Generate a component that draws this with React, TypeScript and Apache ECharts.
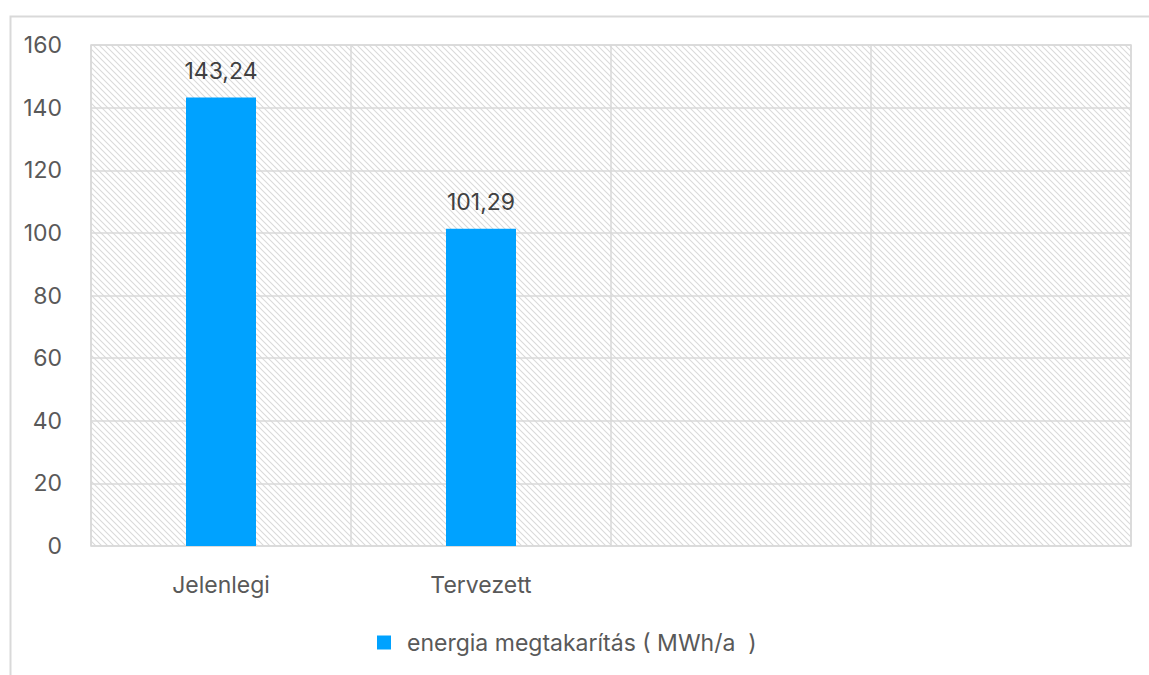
import React, { useEffect, useRef } from "react";
import * as echarts from "echarts";

const categories = ["Jelenlegi", "Tervezett", "", ""];
const values: (number | null)[] = [143.24, 101.29, null, null];
const seriesName = "energia megtakarítás ( MWh/a  )";
const yMin = 0;
const yMax = 160;
const yInterval = 20;

function makeHatch(): HTMLCanvasElement {
  const s = 6;
  const c = document.createElement("canvas");
  c.width = s;
  c.height = s;
  const ctx = c.getContext("2d")!;
  ctx.fillStyle = "#ffffff";
  ctx.fillRect(0, 0, s, s);
  ctx.strokeStyle = "#dadada";
  ctx.lineWidth = 1.1;
  ctx.beginPath();
  ctx.moveTo(-1, -1);
  ctx.lineTo(s + 1, s + 1);
  ctx.moveTo(-1, s - 1);
  ctx.lineTo(1, s + 1);
  ctx.moveTo(s - 1, -1);
  ctx.lineTo(s + 1, 1);
  ctx.stroke();
  return c;
}

export default function App() {
  const ref = useRef<HTMLDivElement>(null);
  useEffect(() => {
    document.body.style.margin = "0";
    const chart = echarts.init(ref.current!, null, { renderer: "svg" });
    const font = "Inter, 'Open Sans', sans-serif";
    const fs = 23;
    chart.setOption({
      animation: false,
      textStyle: { fontFamily: font },
      graphic: [
        {
          type: "rect",
          left: 8,
          top: 14,
          shape: { width: 1300, height: 800 },
          style: { fill: "none", stroke: "#d9d9d9", lineWidth: 2 },
          silent: true,
          z: -10,
        },
      ],
      grid: {
        left: 91,
        right: 18,
        top: 45,
        bottom: 129,
        show: true,
        backgroundColor: { image: makeHatch(), repeat: "repeat" } as any,
        borderColor: "#d9d9d9",
        borderWidth: 1.5,
      },
      legend: {
        top: 631,
        left: 377,
        padding: 0,
        icon: "rect",
        itemWidth: 14,
        itemHeight: 14,
        itemGap: 10,
        textStyle: { fontSize: fs, color: "#595959", fontFamily: font, padding: [0, 0, 0, 11] },
        data: [seriesName],
      },
      xAxis: {
        type: "category",
        data: categories,
        axisLine: { show: false },
        axisTick: { show: false },
        axisLabel: { fontSize: fs, color: "#595959", margin: 27, fontFamily: font },
        splitLine: { show: true, lineStyle: { color: "#d9d9d9", width: 1.5 } },
      },
      yAxis: {
        type: "value",
        min: yMin,
        max: yMax,
        interval: yInterval,
        axisLine: { show: false },
        axisTick: { show: false },
        axisLabel: { fontSize: fs, color: "#595959", margin: 29, fontFamily: font },
        splitLine: { show: true, lineStyle: { color: "#d9d9d9", width: 1.5 } },
      },
      series: [
        {
          name: seriesName,
          type: "bar",
          data: values,
          barWidth: 70,
          itemStyle: { color: "#00a2ff" },
          label: {
            show: true,
            position: "top",
            distance: 15,
            fontSize: fs,
            color: "#404040",
            fontFamily: font,
            formatter: (p: any) =>
              p.value == null ? "" : Number(p.value).toFixed(2).replace(".", ","),
          },
        },
      ],
    });
    return () => chart.dispose();
  }, []);
  return <div ref={ref} style={{ width: 1149, height: 675 }} />;
}
